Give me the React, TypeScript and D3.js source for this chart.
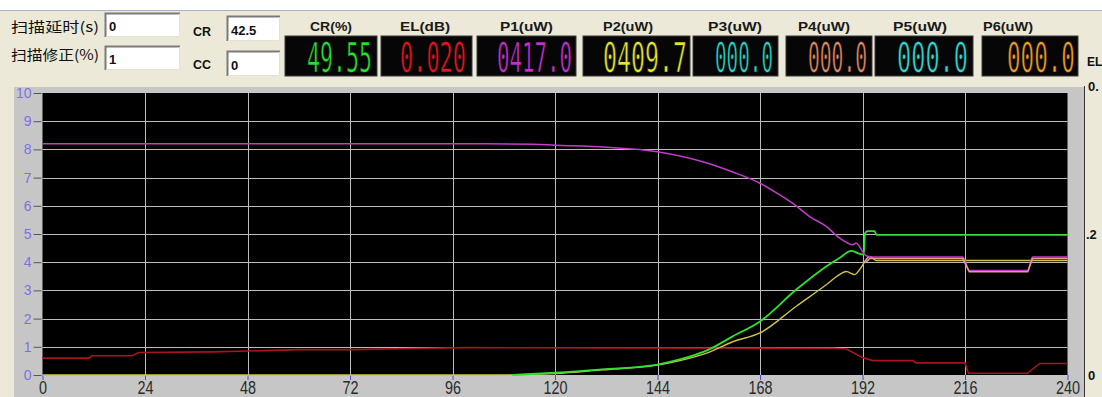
import React, { useRef, useEffect } from "react";
import * as d3 from "d3";

// ---- data ----
const xTicks = [0, 24, 48, 72, 96, 120, 144, 168, 192, 216, 240];
const yTicks = [0, 1, 2, 3, 4, 5, 6, 7, 8, 9, 10];
const elTicks = [0, 0.2, 0.4];
const elTickLabels = ["0", ".2", "0."];

const meterLabels = ["CR(%)", "EL(dB)", "P1(uW)", "P2(uW)", "P3(uW)", "P4(uW)", "P5(uW)", "P6(uW)"];
const meterValues = ["49.55", "0.020", "0417.0", "0409.7", "000.0", "000.0", "000.0", "000.0"];

const inputLabels = ["扫描延时(s)", "扫描修正(%)"];
const inputValues = ["0", "1"];
const crccLabels = ["CR", "CC"];
const crccValues = ["42.5", "0"];

// purple trace
const purpleT = [0, 100, 115, 120, 132, 144, 156, 161.6, 168, 172.6, 176, 179.6, 183.5, 186.6, 189.8, 190.5, 191.3, 192.5, 194, 215.5, 217, 230.7, 231.8, 240];
const purpleV = [8.2, 8.2, 8.18, 8.15, 8.08, 7.92, 7.5, 7.2, 6.8, 6.39, 6.05, 5.62, 5.27, 4.86, 4.62, 4.68, 4.56, 4.27, 4.18, 4.18, 3.71, 3.71, 4.18, 4.18];

// green trace
const greenT = [110, 120, 131, 144, 149.2, 156, 161.6, 168, 176.5, 183.5, 186.6, 189.4, 190.9, 192.3, 192.6, 193.2, 194.8, 195.3, 240];
const greenV = [0, 0.08, 0.2, 0.37, 0.55, 0.9, 1.37, 1.9, 3.03, 3.85, 4.15, 4.4, 4.32, 4.27, 5.03, 5.1, 5.1, 4.97, 4.97];

// yellow trace
const yellowT = [0, 105, 120, 131, 144, 149, 156, 161.6, 168, 176.5, 183.5, 186.6, 188.2, 190.2, 191.3, 193.7, 195.2, 240];
const yellowV = [0, 0, 0.05, 0.18, 0.35, 0.5, 0.8, 1.18, 1.49, 2.44, 3.2, 3.56, 3.67, 3.56, 3.73, 4.2, 4.06, 4.06];

// dark red trace
const redT = [0, 11, 11.5, 21, 22.5, 40, 48, 60, 72, 90, 100, 185, 188.2, 192, 194.4, 203.8, 204.5, 216, 216.8, 230.6, 233.5, 240];
const redV = [0.6, 0.6, 0.68, 0.68, 0.8, 0.82, 0.85, 0.9, 0.9, 0.95, 0.97, 0.95, 0.92, 0.62, 0.51, 0.51, 0.43, 0.43, 0.06, 0.06, 0.41, 0.41];

// salmon trace
const salmonT = [192.8, 193.7, 215.5, 217, 230.7, 231.8, 240];
const salmonV = [4.0, 4.13, 4.13, 3.66, 3.66, 4.13, 4.13];

// ---- layout ----
const meterBoxes = [
	[285, 377], [381, 472], [477, 576], [583, 690],
	[693, 778], [786, 872], [875, 973], [982, 1078],
];
const meterDigits = [
	[307, 372], [400, 466], [497, 572], [603, 687],
	[715, 773], [808, 867], [897, 968], [1007, 1075],
];
const meterLabelSpan = [
	[310, 352], [400, 450], [500, 553], [603, 653],
	[708, 762], [798, 850], [893, 947], [983, 1033],
];
const meterColors = ["#2be02b", "#e8141e", "#c92fd0", "#e6e62a", "#27d6c8", "#e58a62", "#2cd8d2", "#f29a22"];
const DIGIT_SIZE = 34;
const MONO_ADVANCE = 0.602;

const seriesColors = {
	red: "#a8141a",
	yellow: "#cfc24a",
	green: "#2fe02f",
	purple: "#c23cc8",
	salmon: "#e89a7a",
};

const InputBox = ({ x, y, w, h, value }) => (
	<g>
		<rect x={x} y={y} width={w} height={h} fill="#ffffff" />
		<path d={`M${x + 0.5},${y + h} V${y + 0.5} H${x + w}`} stroke="#7a7a7a" strokeWidth={2} fill="none" />
		<path d={`M${x + 1},${y + h - 0.5} H${x + w - 0.5} V${y + 1}`} stroke="#e4e2d6" strokeWidth={1} fill="none" />
		<text x={x + 4} y={y + h - 6} fontFamily="Liberation Sans, Arial, sans-serif" fontWeight="bold" fontSize={13} fill="#111">{value}</text>
	</g>
);

const App = () => {
	const chart = useRef(null);

	useEffect(() => {
		const g = d3.select(chart.current);
		g.selectAll("*").remove();

		const x = d3.scaleLinear().domain([0, 240]).range([42.5, 1067.5]);
		const y = d3.scaleLinear().domain([0, 10]).range([375, 93]);
		const el = d3.scaleLinear().domain([0, 0.4]).range([375, 93]);

		// panel and plot background
		g.append("rect").attr("x", 14).attr("y", 87).attr("width", 1070).attr("height", 310).attr("fill", "#c6c6c6");
		g.append("rect")
			.attr("x", x(0)).attr("y", y(10))
			.attr("width", x(240) - x(0)).attr("height", y(0) - y(10))
			.attr("fill", "#000");

		// grid
		g.append("g").selectAll("line")
			.data(yTicks.filter(d => d > 0 && d < 10))
			.join("line")
			.attr("x1", x(0)).attr("x2", x(240))
			.attr("y1", d => Math.round(y(d)) + 0.5).attr("y2", d => Math.round(y(d)) + 0.5)
			.attr("stroke", "#bcbcbc");
		g.append("g").selectAll("line")
			.data(xTicks.filter(d => d > 0 && d < 240))
			.join("line")
			.attr("x1", d => Math.round(x(d)) + 0.5).attr("x2", d => Math.round(x(d)) + 0.5)
			.attr("y1", y(10)).attr("y2", y(0))
			.attr("stroke", "#bcbcbc");

		// left axis
		const yAxis = d3.axisLeft(y).tickValues(yTicks).tickSize(8).tickPadding(2).tickFormat(d3.format("d"));
		const ya = g.append("g").attr("transform", `translate(${x(0) - 1},0)`).call(yAxis);
		ya.select(".domain").remove();
		ya.selectAll("line").attr("stroke", "#555");
		ya.selectAll("text")
			.attr("fill", "#7d6fe6")
			.attr("font-size", 14)
			.attr("font-family", "Liberation Sans, Arial, sans-serif");

		// bottom axis
		const xAxis = d3.axisBottom(x).tickValues(xTicks).tickSize(5).tickPadding(1).tickFormat(d3.format("d"));
		const xa = g.append("g").attr("transform", `translate(0,${y(0)})`).call(xAxis);
		xa.select(".domain").remove();
		xa.selectAll("line").attr("stroke", "#4a4ae6");
		xa.selectAll("text")
			.attr("fill", "#2a2a2a")
			.attr("font-size", 18)
			.attr("font-family", "Liberation Sans, Arial, sans-serif")
			.attr("textLength", d => String(d).length * 8)
			.attr("lengthAdjust", "spacingAndGlyphs");

		// right EL axis
		g.append("line")
			.attr("x1", 1084.5).attr("x2", 1084.5)
			.attr("y1", 86).attr("y2", 397)
			.attr("stroke", "#333");
		g.append("g").selectAll("text")
			.data(elTicks)
			.join("text")
			.attr("x", (d, i) => (i === 1 ? 1086 : 1088))
			.attr("y", (d, i) => el(d) - (i === 2 ? 7 : 0))
			.attr("dy", "0.35em")
			.attr("font-size", 13)
			.attr("font-weight", "bold")
			.attr("font-family", "Liberation Sans, Arial, sans-serif")
			.attr("fill", "#111")
			.text((d, i) => elTickLabels[i]);
		g.append("text")
			.attr("x", 1087).attr("y", 66)
			.attr("font-size", 12).attr("font-weight", "bold")
			.attr("font-family", "Liberation Sans, Arial, sans-serif")
			.attr("fill", "#111")
			.text("EL");

		// traces
		const plot = g.append("g");
		const line = d3.line().x(d => x(d[0])).y(d => y(d[1]));
		const smooth = d3.line().x(d => x(d[0])).y(d => y(d[1])).curve(d3.curveMonotoneX);
		const traces = [
			{ t: redT, v: redV, c: seriesColors.red, w: 1.6, gen: line },
			{ t: yellowT, v: yellowV, c: seriesColors.yellow, w: 1.4, gen: smooth },
			{ t: greenT, v: greenV, c: seriesColors.green, w: 1.8, gen: smooth },
			{ t: purpleT, v: purpleV, c: seriesColors.purple, w: 1.5, gen: smooth },
			{ t: salmonT, v: salmonV, c: seriesColors.salmon, w: 1.6, gen: line },
		];
		traces.forEach(s => {
			plot.append("path")
				.datum(s.t.map((t, i) => [t, s.v[i]]))
				.attr("d", s.gen)
				.attr("fill", "none")
				.attr("stroke", s.c)
				.attr("stroke-width", s.w);
		});
	});

	return (
		<svg width={1102} height={397} style={{ position: "absolute", left: 0, top: 0 }}>
			<rect width={1102} height={397} fill="#ece9d8" />
			<rect width={1102} height={10} fill="#ffffff" />
			<line x1={0} x2={1102} y1={10.5} y2={10.5} stroke="#a9b0c8" />

			{/* scan settings */}
			{inputLabels.map((lab, i) => (
				<text key={lab} x={11} y={32 + i * 28} fontFamily="Noto Sans CJK SC, sans-serif" fontSize={14} fill="#111"
					textLength={88} lengthAdjust="spacingAndGlyphs">{lab}</text>
			))}
			{inputValues.map((v, i) => (
				<InputBox key={"in" + i} x={105} y={13 + i * 33} w={75} h={24} value={v} />
			))}
			{crccLabels.map((lab, i) => (
				<text key={lab} x={193} y={36 + i * 33} fontFamily="Liberation Sans, Arial, sans-serif" fontWeight="bold" fontSize={13} fill="#111"
					textLength={18} lengthAdjust="spacingAndGlyphs">{lab}</text>
			))}
			{crccValues.map((v, i) => (
				<InputBox key={"cc" + i} x={227} y={16 + i * 35} w={53} h={25} value={v} />
			))}

			{/* digital readouts */}
			{meterLabels.map((lab, i) => {
				const span = meterDigits[i][1] - meterDigits[i][0];
				const sx = span / (meterValues[i].length * MONO_ADVANCE * DIGIT_SIZE);
				return (
					<g key={lab}>
						<text x={meterLabelSpan[i][0]} y={31} fontFamily="Liberation Sans, Arial, sans-serif" fontWeight="bold" fontSize={12} fill="#1a1a1a"
							textLength={meterLabelSpan[i][1] - meterLabelSpan[i][0]} lengthAdjust="spacingAndGlyphs">{lab}</text>
						<rect x={meterBoxes[i][0]} y={36} width={meterBoxes[i][1] - meterBoxes[i][0]} height={40} fill="#060606" stroke="#3a3a3a" />
						<text transform={`translate(${meterDigits[i][0]},72) scale(${sx.toFixed(3)},1.22)`}
							fontFamily="DejaVu Sans Mono, monospace" fontSize={DIGIT_SIZE} fill={meterColors[i]}
							stroke="#060606" strokeWidth={0.6}>{meterValues[i]}</text>
					</g>
				);
			})}

			<g ref={chart} />
		</svg>
	);
};

export default App;
